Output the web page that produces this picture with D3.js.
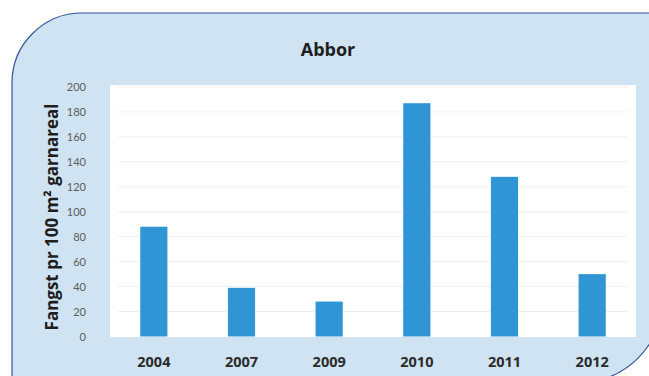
<!DOCTYPE html>
<html>
<head>
<meta charset="utf-8">
<script src="https://cdn.jsdelivr.net/npm/d3@7"></script>
<style>
  html, body { margin: 0; padding: 0; background: #ffffff; }
  svg { display: block; font-family: "Open Sans", Lato, sans-serif; }
</style>
</head>
<body>
<svg id="chart" width="649" height="376"></svg>
<script>
// Abbor: catch per 100 m² of net area, by year
const years = ["2004", "2007", "2009", "2010", "2011", "2012"];
const catchValues = [88, 39, 28, 187, 128, 50];
const yTicks = [0, 20, 40, 60, 80, 100, 120, 140, 160, 180, 200];

const svg = d3.select("#chart");

// Panel with rounded top-left and bottom-right corners
svg.append("path")
  .attr("d", "M12,83 A70,70 0 0 1 82,13 L663,13 L663,298 A85,85 0 0 1 578,383 L12,383 Z")
  .attr("fill", "#cfe3f2")
  .attr("stroke", "#34549a")
  .attr("stroke-width", 1.2);

const plot = { left: 110, right: 636, top: 85, bottom: 337 };

// White plot area
svg.append("rect")
  .attr("x", plot.left).attr("y", plot.top)
  .attr("width", plot.right - plot.left)
  .attr("height", plot.bottom - plot.top)
  .attr("fill", "#ffffff");

const x = d3.scaleBand()
  .domain(years)
  .range([plot.left, plot.right])
  .paddingInner(0.69)
  .paddingOuter(0.345);

const y = d3.scaleLinear()
  .domain([0, 200])
  .range([336.5, 87]);

// Gridlines
svg.append("g")
  .selectAll("line")
  .data(yTicks.filter(d => d > 0))
  .join("line")
  .attr("x1", plot.left + 8).attr("x2", plot.right - 8)
  .attr("y1", d => y(d)).attr("y2", d => y(d))
  .attr("stroke", "#efefef")
  .attr("stroke-width", 1);

// Bars
svg.append("g")
  .selectAll("rect")
  .data(years.map((yr, i) => ({ yr, v: catchValues[i] })))
  .join("rect")
  .attr("x", d => x(d.yr))
  .attr("width", x.bandwidth())
  .attr("y", d => y(d.v))
  .attr("height", d => y(0) - y(d.v))
  .attr("fill", "#2f95d5");

// Y axis
const yAxis = svg.append("g")
  .attr("transform", "translate(86,0)")
  .call(d3.axisLeft(y).tickValues(yTicks).tickSize(0).tickPadding(0));
yAxis.select(".domain").remove();
yAxis.selectAll("text")
  .attr("fill", "#5c5c5c")
  .attr("font-size", 11)
  .attr("font-family", "Lato, sans-serif");

// X axis
const xAxis = svg.append("g")
  .attr("transform", `translate(0,${plot.bottom})`)
  .call(d3.axisBottom(x).tickSize(0).tickPadding(20));
xAxis.select(".domain").remove();
xAxis.selectAll("text")
  .attr("fill", "#2b2b2b")
  .attr("font-size", 14.5)
  .attr("font-weight", "bold")
  .attr("font-family", "'Open Sans', sans-serif");

// Title
svg.append("text")
  .attr("x", 328).attr("y", 56)
  .attr("text-anchor", "middle")
  .attr("font-size", 18)
  .attr("font-weight", "bold")
  .attr("fill", "#1e1e1e")
  .text("Abbor");

// Y axis title
svg.append("text")
  .attr("transform", "translate(58,217) rotate(-90)")
  .attr("text-anchor", "middle")
  .attr("font-size", 17)
  .attr("font-weight", "bold")
  .attr("fill", "#1e1e1e")
  .text("Fangst pr 100 m² garnareal");
</script>
</body>
</html>
